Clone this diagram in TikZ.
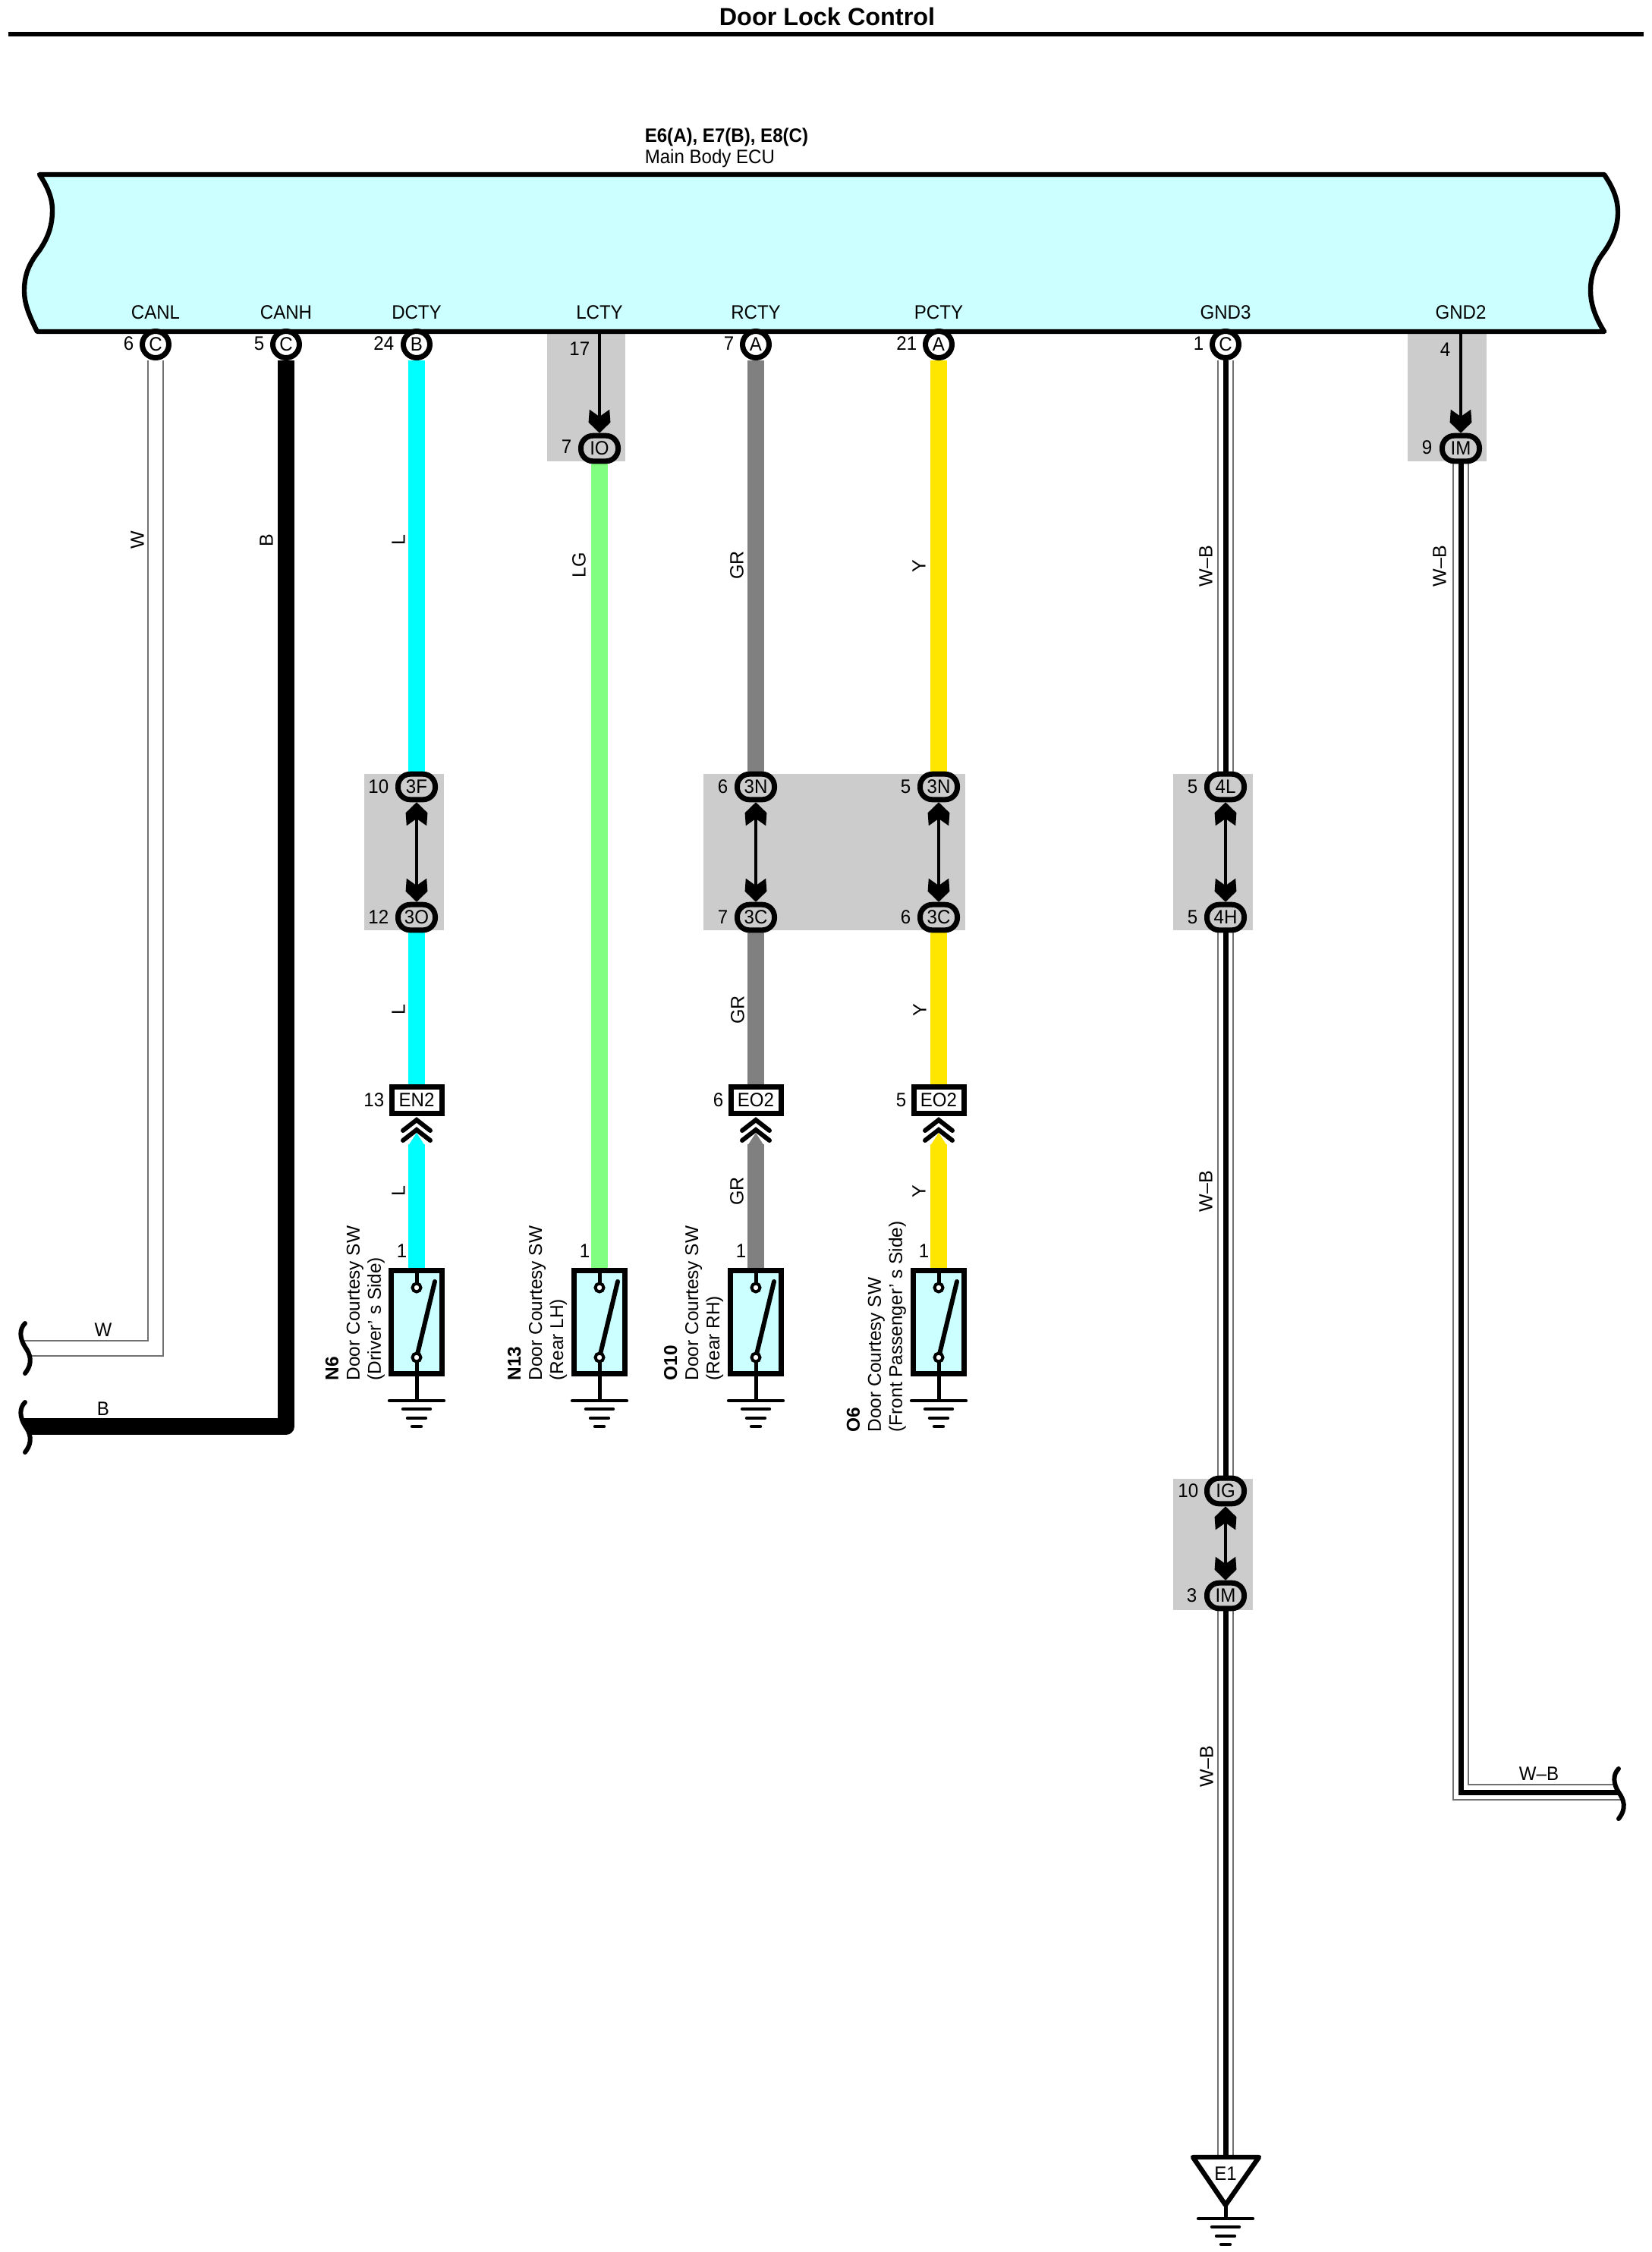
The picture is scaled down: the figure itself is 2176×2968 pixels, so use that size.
\documentclass[tikz,border=0pt]{standalone}
\usepackage{fontspec}
\setmainfont{Liberation Sans}
\newfontfamily\narrowfont[FakeStretch=0.94]{Liberation Sans}
\usetikzlibrary{arrows.meta}
\usetikzlibrary{backgrounds}
\definecolor{ecublue}{HTML}{CCFFFF}
\definecolor{boxgray}{HTML}{CCCCCC}
\definecolor{wireL}{HTML}{00FFFF}
\definecolor{wireLG}{HTML}{80FF80}
\definecolor{wireGR}{HTML}{808080}
\definecolor{wireY}{HTML}{FFE600}
\definecolor{edgegray}{HTML}{707070}
\pgfdeclarearrow{
  name=Barb,
  setup code={
    \pgfarrowssettipend{0pt}
    \pgfarrowssetlineend{-5pt}
    \pgfarrowssetvisualbackend{-7.75pt}
    \pgfarrowssetbackend{-7.75pt}
    \pgfarrowshullpoint{0pt}{0pt}
    \pgfarrowshullpoint{-7.75pt}{3.6pt}
    \pgfarrowshullpoint{-7.75pt}{-3.6pt}
  },
  drawing code={
    \pgfpathmoveto{\pgfqpoint{0pt}{0pt}}
    \pgfpathlineto{\pgfqpoint{-3.5pt}{3.6pt}}
    \pgfpathlineto{\pgfqpoint{-7.75pt}{3.3pt}}
    \pgfpathlineto{\pgfqpoint{-5.4pt}{0pt}}
    \pgfpathlineto{\pgfqpoint{-7.75pt}{-3.3pt}}
    \pgfpathlineto{\pgfqpoint{-3.5pt}{-3.6pt}}
    \pgfpathclose
    \pgfusepathqfill
  }
}
\tikzset{txt/.style={font=\narrowfont\fontsize{6.4}{7}\selectfont,inner sep=0pt}}
\tikzset{num/.style={txt,anchor=east}}
\tikzset{wl/.style={font=\fontsize{6.25}{7}\selectfont,inner sep=0pt,rotate=90}}
\tikzset{swl/.style={font=\fontsize{6.1}{7}\selectfont,inner sep=0pt,rotate=90,anchor=west,align=left}}
\tikzset{zone/.style={fill=boxgray,draw=none}}
\tikzset{hole/.style={txt,circle,draw,fill=white,line width=1.75pt,minimum size=8.75pt}}
\tikzset{plug/.style={txt,rectangle,draw,fill=boxgray,line width=1.75pt,rounded corners=4pt,minimum width=12.25pt,minimum height=8.4pt}}
\tikzset{block/.style={txt,rectangle,draw,fill=white,line width=1.75pt,minimum width=16.5pt,minimum height=8.75pt}}
\tikzset{swbox/.style={rectangle,draw,fill=ecublue,line width=1.75pt,inner sep=0pt,minimum width=16.75pt,minimum height=34pt}}
\tikzset{contact/.style={circle,draw,fill=white,line width=1pt,inner sep=0pt,minimum size=2.75pt}}
\tikzset{solid wire/.style={line width=5.4pt}}
\tikzset{wirew/.style={edgegray,line width=5.375pt,postaction={draw=white,line width=4.625pt}}}
\tikzset{wb/.style={edgegray,line width=5.375pt,postaction={draw=white,line width=4.625pt},postaction={draw=black,line width=1.75pt}}}
\tikzset{link/.style={line width=0.9pt,{Barb}-{Barb}}}
\tikzset{feed/.style={line width=1.2pt,-{Barb}}}
\newcommand{\gndbars}[2]{%
  \draw[line width=1.1pt,line cap=round] (#1-36,#2) -- (#1+36,#2);
  \draw[line width=1.1pt,line cap=round] (#1-18,#2+11) -- (#1+18,#2+11);
  \draw[line width=1.1pt,line cap=round] (#1-12,#2+23) -- (#1+12,#2+23);
  \draw[line width=1.1pt,line cap=round] (#1-6,#2+34) -- (#1+6,#2+34);}
\newcommand{\doorsw}[2]{%
  \node[swbox] (#1) at (#2,1742) {};
  \draw[line width=1.25pt] (#1.north) -- (#2,1697);
  \draw[line width=1.25pt] (#2,1789) -- (#2,1846);
  \draw[line width=1.5pt,line cap=round] (#2,1789) -- (#2+24,1689);
  \node[contact] (#1a) at (#2,1697) {};
  \node[contact] (#1b) at (#2,1789) {};
  \gndbars{#2}{1846}}
\newcommand{\chev}[2]{%
  \fill[#2] (#1-11,1510) -- (#1,1493) -- (#1+11,1510) -- cycle;
  \draw[line width=1.5pt,line cap=round,line join=miter] (#1-18,1490) -- (#1,1476) -- (#1+18,1490);
  \draw[line width=1.5pt,line cap=round,line join=miter] (#1-18,1503) -- (#1,1489) -- (#1+18,1503);}
\newcommand{\wavy}[3]{%
  \fill[white] (#1,#2) .. controls (#1-8,#2+8) and (#1-7,#2+20) .. (#1,#2+31) .. controls (#1+7,#2+41) and (#1+11,#2+52) .. (#1,#2+66) -- (#1+#3,#2+66) -- (#1+#3,#2) -- cycle;
  \draw[line width=1.5pt,line cap=round] (#1,#2) .. controls (#1-8,#2+8) and (#1-7,#2+20) .. (#1,#2+31) .. controls (#1+7,#2+41) and (#1+11,#2+52) .. (#1,#2+66);}

\begin{document}
\begin{tikzpicture}[x=0.25pt,y=-0.25pt]
  \useasboundingbox (0,0) rectangle (2176,2968);
  % title and ECU
  \node[font=\bfseries\fontsize{8.1}{9}\selectfont,inner sep=0pt] (title) at (1090,22) {Door Lock Control};
  \coordinate (ruleL) at (11,45);
  \coordinate (ruleR) at (2166,45);
  \draw[line width=1.6pt] (ruleL) -- (ruleR);
  \node[txt,anchor=base west,font=\narrowfont\bfseries\fontsize{6.4}{7}\selectfont] (ecuId) at (849,187) {E6(A), E7(B), E8(C)};
  \node[txt,anchor=base west] (ecuName) at (849,215) {Main Body ECU};
  \draw[line width=1.6pt,fill=ecublue,line join=round] (52,230) -- (2114,230)
    .. controls (2124,245) and (2132,260) .. (2132,280)
    .. controls (2132,300) and (2124,318) .. (2113,333)
    .. controls (2103,346) and (2096,362) .. (2096,383)
    .. controls (2096,400) and (2102,418) .. (2114,437)
    -- (49,437)
    .. controls (38,415) and (32,400) .. (32,383)
    .. controls (32,360) and (40,345) .. (52,330)
    .. controls (62,315) and (69,300) .. (69,277)
    .. controls (69,260) and (62,245) .. (52,230) -- cycle;
  \node[txt] (canl) at (205,412) {CANL};
  \node[txt] (canh) at (377,412) {CANH};
  \node[txt] (dcty) at (549,412) {DCTY};
  \node[txt] (lcty) at (790,412) {LCTY};
  \node[txt] (rcty) at (996,412) {RCTY};
  \node[txt] (pcty) at (1237,412) {PCTY};
  \node[txt] (gnd3) at (1615,412) {GND3};
  \node[txt] (gnd2) at (1925,412) {GND2};
  % connectors
  \node[hole] (canlC) at (205,454) {C};
  \node[hole] (canhC) at (377,454) {C};
  \node[hole] (dctyB) at (549,454) {B};
  \node[hole] (rctyA) at (996,454) {A};
  \node[hole] (pctyA) at (1237,454) {A};
  \node[hole] (gnd3C) at (1615,454) {C};
  \node[plug] (lctyIO) at (790,591) {IO};
  \node[plug] (gnd2IM) at (1925,591) {IM};
  \node[plug] (dctyF) at (549,1037) {3F};
  \node[plug] (dctyO) at (549,1209) {3O};
  \node[plug] (rctyN) at (996,1037) {3N};
  \node[plug] (rctyC) at (996,1209) {3C};
  \node[plug] (pctyN) at (1237,1037) {3N};
  \node[plug] (pctyC) at (1237,1209) {3C};
  \node[plug] (gnd3L) at (1615,1037) {4L};
  \node[plug] (gnd3H) at (1615,1209) {4H};
  \node[plug] (gnd3G) at (1615,1965) {IG};
  \node[plug] (gnd3M) at (1615,2103) {IM};
  \node[block] (dctyEN) at (549,1450) {EN2};
  \node[block] (rctyEO) at (996,1450) {EO2};
  \node[block] (pctyEO) at (1237,1450) {EO2};
  % numbers
  \node[num] (n1) at (177,453) {6};
  \node[num] (n2) at (349,453) {5};
  \node[num] (n3) at (520,453) {24};
  \node[num] (n4) at (778,460) {17};
  \node[num] (n5) at (754,589) {7};
  \node[num] (n6) at (968,453) {7};
  \node[num] (n7) at (1209,453) {21};
  \node[num] (n8) at (1587,453) {1};
  \node[num] (n9) at (1912,461) {4};
  \node[num] (n10) at (1888,590) {9};
  \node[num] (n11) at (513,1037) {10};
  \node[num] (n12) at (513,1209) {12};
  \node[num] (n13) at (960,1037) {6};
  \node[num] (n14) at (960,1209) {7};
  \node[num] (n15) at (1201,1037) {5};
  \node[num] (n16) at (1201,1209) {6};
  \node[num] (n17) at (1579,1037) {5};
  \node[num] (n18) at (1579,1209) {5};
  \node[num] (n19) at (1580,1965) {10};
  \node[num] (n20) at (1578,2103) {3};
  \node[num] (n21) at (507,1450) {13};
  \node[num] (n22) at (954,1450) {6};
  \node[num] (n23) at (1195,1450) {5};
  \node[num] (n24) at (537,1649) {1};
  \node[num] (n25) at (778,1649) {1};
  \node[num] (n26) at (984,1649) {1};
  \node[num] (n27) at (1225,1649) {1};
  % switches
  \doorsw{swN6}{549}
  \doorsw{swN13}{790}
  \doorsw{swO10}{996}
  \doorsw{swO6}{1237}
  \chev{549}{wireL}
  \chev{996}{wireGR}
  \chev{1237}{wireY}
  \node[swl] (labN6) at (468,1820) {\textbf{N6}\\Door Courtesy SW\\(Driver' s Side)};
  \node[swl] (labN13) at (708,1820) {\textbf{N13}\\Door Courtesy SW\\(Rear LH)};
  \node[swl] (labO10) at (914,1820) {\textbf{O10}\\Door Courtesy SW\\(Rear RH)};
  \node[swl] (labO6) at (1155,1888) {\textbf{O6}\\Door Courtesy SW\\(Front Passenger' s Side)};
  % ground point
  \coordinate (e1Top) at (1615,2843);
  \draw[line width=1.6pt,fill=white,line join=round] (1572,2843) -- (1659,2843) -- (1615,2906) -- cycle;
  \coordinate (e1Low) at (1615,2906);
  \coordinate (e1Gnd) at (1615,2924);
  \draw[line width=1.25pt] (e1Low) -- (e1Gnd);
  \gndbars{1615}{2924}
  \node[txt] (e1) at (1615,2865) {E1};
  % wire labels
  \node[wl] (w1) at (181,712) {W};
  \node[wl] (w2) at (351,712) {B};
  \node[wl] (w3) at (525,712) {L};
  \node[wl] (w4) at (763,745) {LG};
  \node[wl] (w5) at (971,745) {GR};
  \node[wl] (w6) at (1211,746) {Y};
  \node[wl] (w7) at (1589,746) {W–B};
  \node[wl] (w8) at (1897,746) {W–B};
  \node[wl] (w9) at (525,1331) {L};
  \node[wl] (w10) at (972,1331) {GR};
  \node[wl] (w11) at (1212,1331) {Y};
  \node[wl] (w12) at (525,1570) {L};
  \node[wl] (w13) at (971,1570) {GR};
  \node[wl] (w14) at (1211,1570) {Y};
  \node[wl] (w15) at (1589,1570) {W–B};
  \node[wl] (w16) at (1590,2328) {W–B};
  \node[txt] (w17) at (136,1753) {W};
  \node[txt] (w18) at (136,1857) {B};
  \node[txt] (w19) at (2028,2338) {W–B};
  % wires underneath
  \coordinate (wCorner) at (205,1777);
  \coordinate (wEnd) at (15,1777);
  \coordinate (bCorner) at (377,1880);
  \coordinate (bEnd) at (15,1880);
  \coordinate (wbCorner) at (1925,2362);
  \coordinate (wbEnd) at (2150,2362);
  \coordinate (lctyTop) at (790,437);
  \coordinate (gnd2Top) at (1925,437);
  \coordinate (enLow) at (549,1508);
  \coordinate (eoLowR) at (996,1508);
  \coordinate (eoLowP) at (1237,1508);
  \begin{scope}[on background layer]
    \fill[zone] (721,437) rectangle (824,608);
    \fill[zone] (1855,437) rectangle (1959,608);
    \fill[zone] (480,1020) rectangle (585,1226);
    \fill[zone] (927,1020) rectangle (1272,1226);
    \fill[zone] (1546,1020) rectangle (1651,1226);
    \fill[zone] (1546,1949) rectangle (1651,2122);
    \draw[wirew,miter limit=10] (canlC) -- (wCorner) -- (wEnd);
    \draw[black,solid wire,line join=round] (canhC) -- (bCorner) -- (bEnd);
    \draw[wireL,solid wire] (dctyB) -- (dctyF);
    \draw[wireL,solid wire] (dctyO) -- (dctyEN);
    \draw[wireL,solid wire] (enLow) -- (swN6);
    \draw[wireLG,solid wire] (lctyIO) -- (swN13);
    \draw[wireGR,solid wire] (rctyA) -- (rctyN);
    \draw[wireGR,solid wire] (rctyC) -- (rctyEO);
    \draw[wireGR,solid wire] (eoLowR) -- (swO10);
    \draw[wireY,solid wire] (pctyA) -- (pctyN);
    \draw[wireY,solid wire] (pctyC) -- (pctyEO);
    \draw[wireY,solid wire] (eoLowP) -- (swO6);
    \draw[wb] (gnd3C) -- (gnd3L);
    \draw[wb] (gnd3H) -- (gnd3G);
    \draw[wb] (gnd3M) -- (e1Top);
    \draw[wb] (gnd2IM) -- (wbCorner) -- (wbEnd);
  \end{scope}
  \wavy{33}{1744}{-25}
  \wavy{33}{1848}{-25}
  \wavy{2133}{2331}{25}
  % links across the grey zones
  \draw[feed] (lctyTop) -- (lctyIO);
  \draw[feed] (gnd2Top) -- (gnd2IM);
  \draw[link] (dctyF) -- (dctyO);
  \draw[link] (rctyN) -- (rctyC);
  \draw[link] (pctyN) -- (pctyC);
  \draw[link] (gnd3L) -- (gnd3H);
  \draw[link] (gnd3G) -- (gnd3M);
\end{tikzpicture}
\end{document}
